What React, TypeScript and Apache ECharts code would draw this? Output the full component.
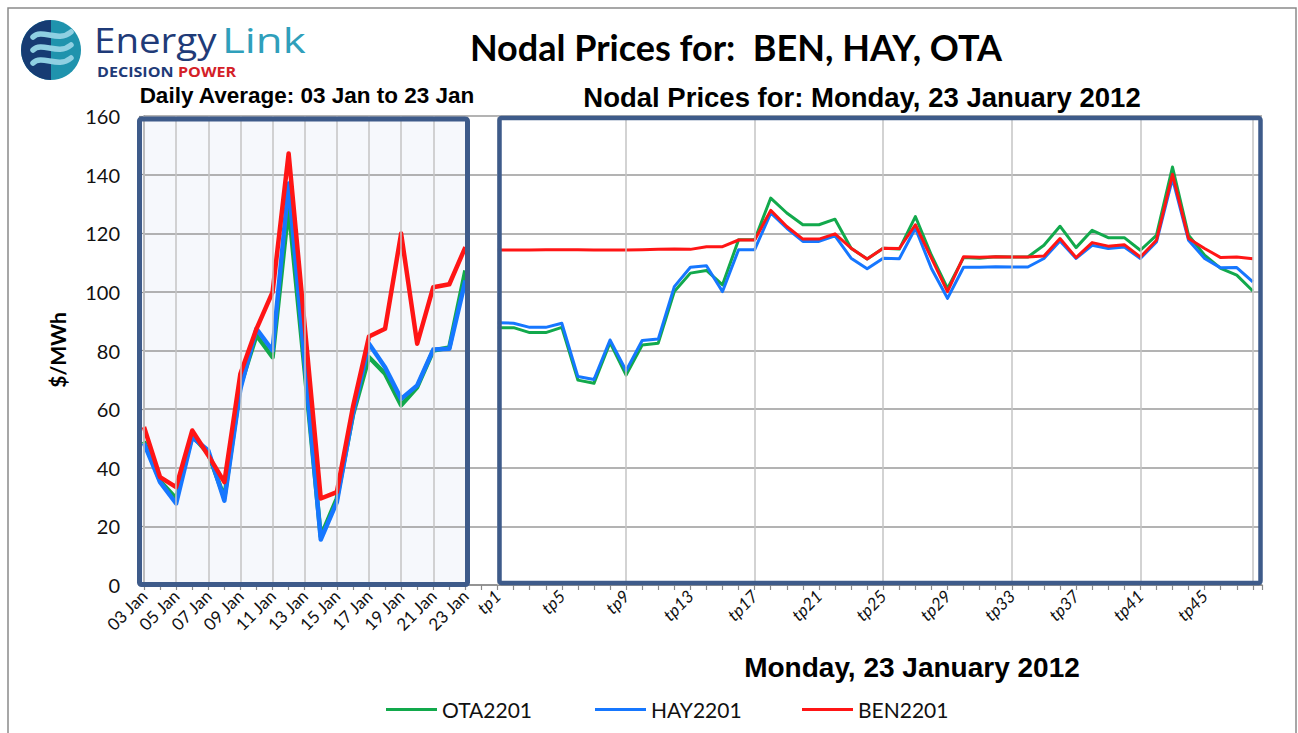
import React, { useEffect, useRef } from "react";
import * as echarts from "echarts";

// ---------- data ----------
const days = ["03 Jan","04 Jan","05 Jan","06 Jan","07 Jan","08 Jan","09 Jan","10 Jan","11 Jan","12 Jan","13 Jan","14 Jan","15 Jan","16 Jan","17 Jan","18 Jan","19 Jan","20 Jan","21 Jan","22 Jan","23 Jan"];
const otaDaily = [49, 35.5, 29.5, 51, 44.9, 29.8, 68, 85.2, 77.7, 129, 73, 16.5, 29.5, 58, 77.7, 72.1, 61.3, 67.5, 80, 81, 107.3];
const hayDaily = [48.3, 35.1, 27.8, 50.4, 45.9, 28.8, 67, 87.4, 80, 137, 76, 15.5, 28.3, 58.5, 82.3, 74.3, 63.5, 68.1, 80.3, 80.6, 103.9];
const benDaily = [53.9, 36.8, 33.4, 52.7, 44.2, 35.1, 72.1, 87.4, 99.9, 147.2, 88.4, 29.5, 31.7, 60.7, 84.8, 87.4, 119.9, 82.3, 101.6, 102.6, 115.3];

const tps = Array.from({ length: 48 }, (_, i) => "tp" + (i + 1));
const otaTp = [87.8, 87.8, 86.1, 86.1, 87.9, 69.9, 68.8, 82.7, 71.6, 81.9, 82.5, 100.1, 106.4, 107.3, 102.4, 117.8, 117.8,
  132.0, 126.9, 122.9, 122.9, 124.8, 114.9, 111.2, 114.9, 114.6, 125.7, 112.5, 101.2, 111.7, 111.5, 112.0,
  111.9, 111.9, 115.9, 122.4, 115.1, 121.0, 118.5, 118.5, 114.2, 119.3, 142.6, 119.3, 112.5, 108.0, 105.7, 100.3];
const hayTp = [89.5, 89.3, 87.9, 87.9, 89.3, 71.1, 70.1, 83.6, 73.1, 83.4, 83.9, 101.8, 108.4, 108.9, 100.1, 114.4, 114.4,
  126.9, 121.7, 117.2, 117.2, 119.1, 111.5, 107.9, 111.5, 111.3, 121.7, 108.0, 97.8, 108.4, 108.4, 108.6,
  108.5, 108.5, 111.4, 117.4, 111.4, 115.9, 114.8, 115.3, 111.4, 117.0, 138.6, 117.6, 111.4, 108.2, 108.3, 103.4];
const benTp = [114.3, 114.3, 114.3, 114.4, 114.4, 114.4, 114.3, 114.3, 114.3, 114.4, 114.5, 114.6, 114.5, 115.4, 115.4, 117.7, 117.7,
  127.8, 122.3, 118.0, 118.0, 119.8, 114.9, 111.2, 114.9, 114.8, 122.9, 111.5, 100.1, 112.0, 111.8, 112.0,
  111.9, 111.9, 112.2, 118.2, 111.7, 116.8, 115.6, 116.1, 111.9, 117.6, 140.1, 118.2, 114.8, 111.7, 111.9, 111.3];

const categories = [...days, "", ...tps];
const TP_START = days.length + 1;

const G = "#12a94c";
const B = "#1677ff";
const R = "#ff1515";
const BOX = "#3e5b8a";

const dailyPts = (arr: number[]) => arr.map((v, i) => [i, v]);
const tpPts = (arr: number[]) => arr.map((v, k) => [TP_START + k, v]);

const vLines: number[] = [];
categories.forEach((_, i) => {
  if (i < days.length && i % 2 === 0) vLines.push(i);
  if (i >= TP_START && ((i - TP_START) % 8 === 0 || i === categories.length - 1)) vLines.push(i);
});

export default function App() {
  const ref = useRef<HTMLDivElement>(null);
  useEffect(() => {
    if (!ref.current) return;
    const chart = echarts.init(ref.current, null, { renderer: "svg" });
    const lineSeries = (name: string, data: number[][], color: string, width: number) => ({
      name,
      type: "line",
      data,
      symbol: "none",
      lineStyle: { color, width, join: "round" },
      itemStyle: { color },
      emphasis: { disabled: true },
      z: 3,
    });
    const legendBase = {
      orient: "horizontal",
      top: 699,
      padding: 0,
      itemWidth: 51,
      itemHeight: 3,
      icon: "rect",
      textStyle: { fontSize: 21, fontFamily: "Lato", color: "#111" },
      selectedMode: false,
    };
    chart.setOption({
      animation: false,
      backgroundColor: "#fff",
      grid: { left: 144, top: 116, width: 1118, height: 469, containLabel: false },
      xAxis: {
        type: "value",
        min: 0,
        max: 69.57,
        interval: 1,
        showMinLabel: true,
        showMaxLabel: false,
        axisLine: { show: true, lineStyle: { color: "#8a8a8a", width: 1.5 } },
        axisTick: { show: true, length: 5, lineStyle: { color: "#8a8a8a", width: 1.2 } },
        splitLine: { show: false },
        axisLabel: {
          rotate: 45,
          margin: 8,
          fontSize: 17,
          fontFamily: "Lato",
          color: "#111",
          formatter: (v: number) => {
            if (Math.abs(v - Math.round(v)) > 1e-6) return "";
            const i = Math.round(v);
            if (i < days.length) return i % 2 === 0 ? categories[i] : "";
            if (i >= TP_START && (i - TP_START) % 4 === 0) return "{i|" + categories[i] + "}";
            return "";
          },
          rich: { i: { fontStyle: "italic", fontSize: 17, fontFamily: "Lato", color: "#111" } },
        },
      },
      yAxis: {
        type: "value",
        min: 0,
        max: 160,
        interval: 20,
        axisLine: { show: true, lineStyle: { color: "#8a8a8a", width: 1.5 } },
        axisTick: { show: true, length: 5, lineStyle: { color: "#8a8a8a", width: 1.2 } },
        axisLabel: { fontSize: 20, fontFamily: "Lato", color: "#111", margin: 24 },
        splitLine: { show: true, lineStyle: { color: "#9a9a9a", width: 1.5 } },
      },
      legend: [
        { ...legendBase, left: 386, data: ["OTA2201"] },
        { ...legendBase, left: 595, data: ["HAY2201"] },
        { ...legendBase, left: 802, data: ["BEN2201"] },
      ],
      series: [
        {
          type: "line",
          data: [],
          silent: true,
          z: 1,
          markLine: {
            silent: true,
            symbol: ["none", "none"],
            label: { show: false },
            lineStyle: { color: "#c4c4c4", width: 1.5, type: "solid" },
            emphasis: { disabled: true },
            data: vLines.map((i) => ({ xAxis: i })),
          },
        },
        lineSeries("OTA2201", dailyPts(otaDaily), G, 4.5),
        lineSeries("HAY2201", dailyPts(hayDaily), B, 4.5),
        lineSeries("BEN2201", dailyPts(benDaily), R, 4.5),
        lineSeries("OTA2201", tpPts(otaTp), G, 3),
        lineSeries("HAY2201", tpPts(hayTp), B, 3),
        lineSeries("BEN2201", tpPts(benTp), R, 3),
      ],
      graphic: [
        { type: "rect", z: -20, shape: { x: 8, y: 8, width: 1288, height: 740 }, style: { fill: "none", stroke: "#8a8a8a", lineWidth: 1.5 } },
        { type: "rect", z: -5, shape: { x: 139.5, y: 119, width: 328, height: 465.5 }, style: { fill: "#f6f8fc" } },
        { type: "rect", z: 50, shape: { x: 139.5, y: 119, width: 328, height: 465.5, r: 2 }, style: { fill: "none", stroke: BOX, lineWidth: 5 } },
        { type: "rect", z: 50, shape: { x: 499.5, y: 118, width: 761, height: 465, r: 2 }, style: { fill: "none", stroke: BOX, lineWidth: 4.5 } },
        // logo
        { type: "circle", z: 10, shape: { cx: 51, cy: 50, r: 30 }, style: { fill: "#1f93ad" } },
        { type: "sector", z: 11, shape: { cx: 51, cy: 50, r0: 0, r: 30, startAngle: Math.PI / 2, endAngle: (Math.PI * 3) / 2, clockwise: true }, style: { fill: "#163c73" } },
        ...[35, 48, 61].map((y) => ({
          type: "bezierCurve",
          z: 12,
          shape: { x1: 33, y1: y + 2, cpx1: 42, cpy1: y - 7, cpx2: 58, cpy2: y + 8, x2: 71, y2: y - 3 },
          style: { stroke: "#8fd0e2", lineWidth: 5.5, fill: "none", lineCap: "round" },
        })),
        { type: "text", z: 10, x: 94, y: 40, scaleX: 1.1, style: { text: "Energy", font: "35px 'Open Sans'", fill: "#1f3b78", textVerticalAlign: "middle" } },
        { type: "text", z: 10, x: 222, y: 40, scaleX: 1.25, style: { text: "Link", font: "35px 'Open Sans'", fill: "#2f9fbb", textVerticalAlign: "middle" } },
        { type: "text", z: 10, x: 97, y: 71, scaleX: 1.15, style: { text: "DECISION", font: "bold 14px 'Open Sans'", fill: "#1f3b78", textVerticalAlign: "middle" } },
        { type: "text", z: 10, x: 178, y: 71, scaleX: 1.15, style: { text: "POWER", font: "bold 14px 'Open Sans'", fill: "#d42027", textVerticalAlign: "middle" } },
        // titles
        { type: "text", z: 10, x: 736, y: 47, style: { text: "Nodal Prices for:  BEN, HAY, OTA", font: "bold 36px Lato", fill: "#000", textAlign: "center", textVerticalAlign: "middle" } },
        { type: "text", z: 10, x: 307, y: 95, style: { text: "Daily Average: 03 Jan to 23 Jan", font: "bold 22.5px 'Liberation Sans'", fill: "#000", textAlign: "center", textVerticalAlign: "middle" } },
        { type: "text", z: 10, x: 862, y: 97, style: { text: "Nodal Prices for: Monday, 23 January 2012", font: "bold 27.5px 'Liberation Sans'", fill: "#000", textAlign: "center", textVerticalAlign: "middle" } },
        { type: "text", z: 10, x: 912, y: 667, style: { text: "Monday, 23 January 2012", font: "bold 28px 'Liberation Sans'", fill: "#000", textAlign: "center", textVerticalAlign: "middle" } },
        { type: "text", z: 10, x: 57, y: 350, rotation: Math.PI / 2, style: { text: "$/MWh", font: "bold 21px Lato", fill: "#000", textAlign: "center", textVerticalAlign: "middle" } },
      ],
    });
    return () => chart.dispose();
  }, []);
  return <div ref={ref} style={{ position: "fixed", left: 0, top: 0, width: 1298, height: 733 }} />;
}
